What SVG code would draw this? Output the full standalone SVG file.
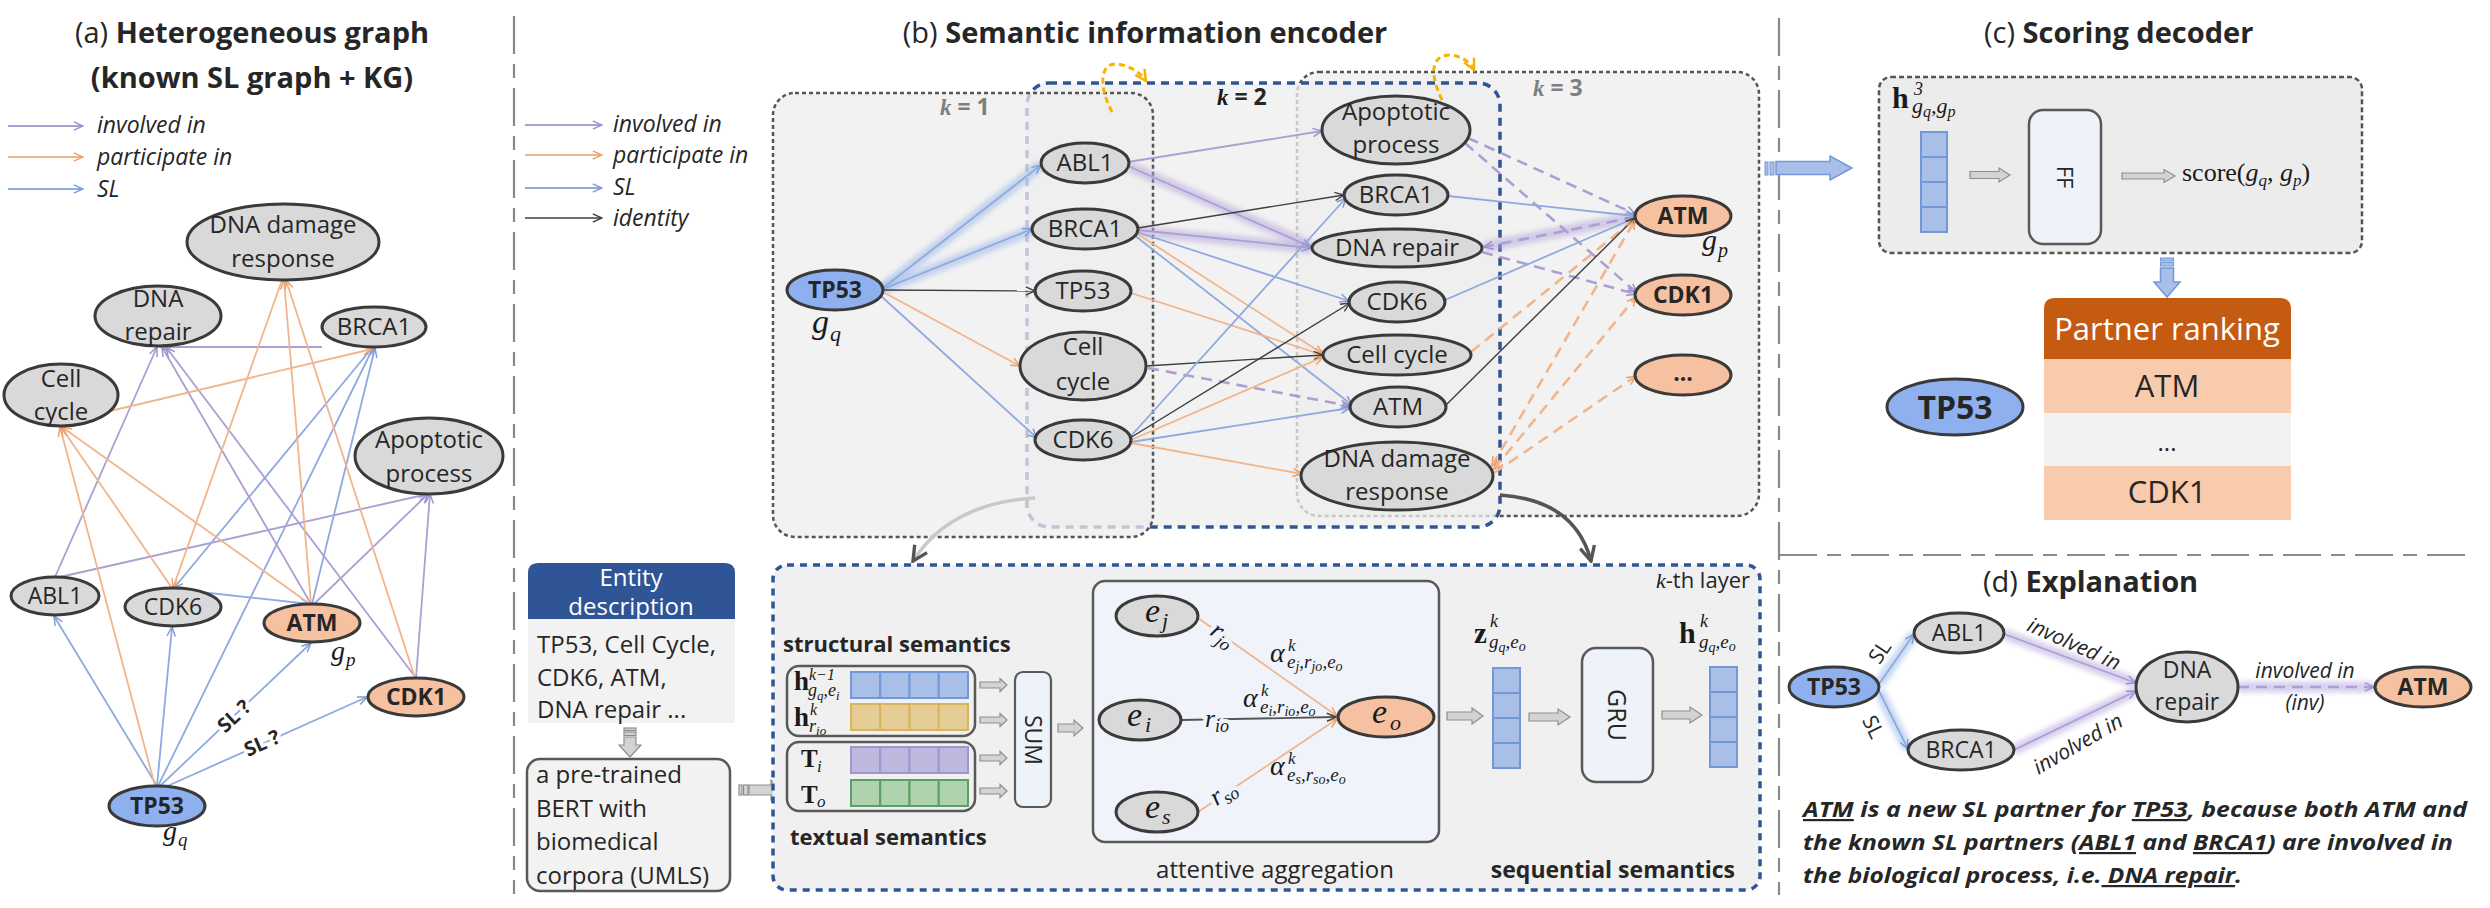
<svg xmlns="http://www.w3.org/2000/svg" width="2490" height="908" viewBox="0 0 2490 908">
<defs>
<style>
.s{font-family:"Open Sans","Liberation Sans",sans-serif;fill:#262626}
.m{font-family:"Liberation Serif","DejaVu Serif",serif;fill:#1a1a1a}
.mi{font-family:"Liberation Serif","DejaVu Serif",serif;font-style:italic;fill:#1a1a1a}
.mb{font-family:"Liberation Serif","DejaVu Serif",serif;font-weight:bold;fill:#1a1a1a}
.tt{font-size:29px;font-weight:bold}
.c{text-anchor:middle}
.f24{font-size:24px}
.f23{font-size:23px}
.b{font-weight:bold}
.it{font-style:italic}
.nd{fill:#d9d9d9;stroke:#3a3a3a;stroke-width:3}
.no{fill:#f6c1a0;stroke:#3a3a3a;stroke-width:3}
.nb{fill:#8eb0ee;stroke:#3a3a3a;stroke-width:3}
.e{fill:none;stroke-width:1.8}
.P{stroke:#ab9fd3;marker-end:url(#mP)}
.O{stroke:#f2b58b;marker-end:url(#mO)}
.B{stroke:#8eaadf;marker-end:url(#mB)}
.K{stroke:#3f3f3f;stroke-width:1.4;marker-end:url(#mK)}
.d{stroke-width:2.6;stroke-dasharray:11 7}
.gl{fill:none;stroke-width:11;opacity:.55;filter:url(#blur)}
.sep{fill:none;stroke:#8a8a8a;stroke-width:2.2;stroke-dasharray:38 10 14 10}
.bx{fill:#ededed;fill-opacity:.75;stroke:#555;stroke-width:2.5;stroke-dasharray:4 3}
.bk{fill:#ededed;fill-opacity:.75;stroke:#2f5597;stroke-width:3.5;stroke-dasharray:8 6}
.ga{fill:#d3d3d3;stroke:#8f8f8f;stroke-width:1.2}
.vb{fill:#a9bfe8;stroke:#7398d8;stroke-width:2}
.yl{fill:none;stroke:#f4b400;stroke-width:3;stroke-dasharray:6 4;marker-end:url(#mY)}
.bgl{paint-order:stroke;stroke:#ffffff;stroke-width:7;stroke-linejoin:round}
</style>
<filter id="blur" filterUnits="userSpaceOnUse" x="0" y="0" width="2490" height="908"><feGaussianBlur stdDeviation="2.5"/></filter>
<marker id="mP" viewBox="0 0 12 12" refX="11" refY="6" markerWidth="11" markerHeight="11" markerUnits="userSpaceOnUse" orient="auto"><path d="M1,1.5 L11,6 L1,10.5" fill="none" stroke="#9d90d0" stroke-width="1.6"/></marker>
<marker id="mO" viewBox="0 0 12 12" refX="11" refY="6" markerWidth="11" markerHeight="11" markerUnits="userSpaceOnUse" orient="auto"><path d="M1,1.5 L11,6 L1,10.5" fill="none" stroke="#ee9f6a" stroke-width="1.6"/></marker>
<marker id="mOr" viewBox="0 0 12 12" refX="11" refY="6" markerWidth="11" markerHeight="11" markerUnits="userSpaceOnUse" orient="auto-start-reverse"><path d="M1,1.5 L11,6 L1,10.5" fill="none" stroke="#ee9f6a" stroke-width="1.6"/></marker>
<marker id="mB" viewBox="0 0 12 12" refX="11" refY="6" markerWidth="11" markerHeight="11" markerUnits="userSpaceOnUse" orient="auto"><path d="M1,1.5 L11,6 L1,10.5" fill="none" stroke="#7d9bd8" stroke-width="1.6"/></marker>
<marker id="mK" viewBox="0 0 12 12" refX="11" refY="6" markerWidth="11" markerHeight="11" markerUnits="userSpaceOnUse" orient="auto"><path d="M1,1.5 L11,6 L1,10.5" fill="none" stroke="#3f3f3f" stroke-width="1.5"/></marker>
<marker id="mY" viewBox="0 0 14 14" refX="12" refY="7" markerWidth="14" markerHeight="14" markerUnits="userSpaceOnUse" orient="auto"><path d="M1,1.5 L12,7 L1,12.5" fill="none" stroke="#f4b400" stroke-width="2.5"/></marker>
<marker id="mG" viewBox="0 0 16 16" refX="14" refY="8" markerWidth="18" markerHeight="18" markerUnits="userSpaceOnUse" orient="auto"><path d="M1,1.5 L14,8 L1,14.5" fill="none" stroke="#555555" stroke-width="3"/></marker>
</defs>
<rect width="2490" height="908" fill="#ffffff"/>

<g id="separators">
<path class="sep" d="M514,16 V894"/>
<path class="sep" d="M1779,18 V895"/>
<path class="sep" d="M1779,555 H2465"/>
</g>

<g id="titles" class="s">
<text class="c tt" x="252" y="43"><tspan font-weight="normal">(a)</tspan> Heterogeneous graph</text>
<text class="c tt" x="252" y="88">(known SL graph + KG)</text>
<text class="c tt" x="1145" y="43"><tspan font-weight="normal">(b)</tspan> Semantic information encoder</text>
<text class="tt" x="1984" y="43"><tspan font-weight="normal">(c)</tspan> Scoring decoder</text>
<text class="tt" x="1983" y="592"><tspan font-weight="normal">(d)</tspan> Explanation</text>
</g>

<g id="legend-a">
<line class="e P" x1="8" y1="126" x2="83" y2="126"/>
<line class="e O" x1="8" y1="157" x2="83" y2="157"/>
<line class="e B" x1="8" y1="189" x2="83" y2="189"/>
<text class="s it f23" x="97" y="133">involved in</text>
<text class="s it f23" x="97" y="165">participate in</text>
<text class="s it f23" x="97" y="197">SL</text>
</g>

<g id="legend-b">
<line class="e P" x1="525" y1="125" x2="602" y2="125"/>
<line class="e O" x1="525" y1="155" x2="602" y2="155"/>
<line class="e B" x1="525" y1="188" x2="602" y2="188"/>
<line class="e K" x1="525" y1="218" x2="602" y2="218"/>
<text class="s it f23" x="613" y="132">involved in</text>
<text class="s it f23" x="613" y="163">participate in</text>
<text class="s it f23" x="613" y="195">SL</text>
<text class="s it f23" x="613" y="226">identity</text>
</g>

<g id="layer-boxes">
<rect class="bx" x="1297" y="72" width="462" height="444" rx="22"/>
<rect class="bk" x="1027" y="83" width="473" height="444" rx="22"/>
<rect class="bx" x="773" y="93" width="380" height="444" rx="22"/>
<text x="940" y="115" font-size="23" fill="#7f7f7f" font-weight="bold"><tspan class="mi" fill="#7f7f7f" style="fill:#7f7f7f">k</tspan><tspan font-family="Open Sans, Liberation Sans, sans-serif"> = 1</tspan></text>
<text x="1217" y="105" font-size="23" fill="#262626" font-weight="bold"><tspan class="mi">k</tspan><tspan font-family="Open Sans, Liberation Sans, sans-serif"> = 2</tspan></text>
<text x="1533" y="96" font-size="23" fill="#7f7f7f" font-weight="bold"><tspan class="mi" style="fill:#7f7f7f">k</tspan><tspan font-family="Open Sans, Liberation Sans, sans-serif">  = 3</tspan></text>
<path class="yl" d="M1112,112 C1098,85 1100,62 1118,64 C1130,66 1140,72 1146,81"/>
<path class="yl" d="M1442,100 C1430,75 1430,55 1450,55 C1462,56 1470,62 1474,70"/>
</g>

<g id="connectors">
<!-- panel a -->
<path class="e B" d="M157,786 L54,616"/>
<path class="e B" d="M157,786 L172,627"/>
<path class="e B" d="M158,786 L373,348"/>
<path class="e B" d="M160,786 L311,643" stroke-width="2.8"/>
<path class="e B" d="M163,788 L367,697" stroke-width="2.8"/>
<path class="e B" d="M372,348 L174,588"/>
<path class="e B" d="M312,604 L375,348"/>
<path class="e B" d="M200,592 L310,604"/>
<path class="e P" d="M55,577 L157,347"/>
<path class="e P" d="M322,347 L160,347"/>
<path class="e P" d="M311,604 L162,347"/>
<path class="e P" d="M416,678 L166,347"/>
<path class="e P" d="M60,577 L428,494"/>
<path class="e P" d="M314,604 L428,494"/>
<path class="e P" d="M416,678 L430,494"/>
<path class="e O" d="M155,786 L60,427"/>
<path class="e O" d="M172,588 L61,427"/>
<path class="e O" d="M310,604 L62,427"/>
<path class="e O" d="M106,412 L372,349"/>
<path class="e O" d="M282,280 L173,588"/>
<path class="e O" d="M311,604 L284,280"/>
<path class="e O" d="M415,678 L286,280"/>
<!-- panel b glows -->
<path class="gl" stroke="#9db8ea" d="M883,288 L1041,165"/>
<path class="gl" stroke="#9db8ea" d="M883,289 L1032,230"/>
<path class="gl" stroke="#b7a8dd" d="M1128,166 L1311,246"/>
<path class="gl" stroke="#b7a8dd" d="M1138,231 L1311,248"/>
<path class="gl" stroke="#b7a8dd" d="M1635,217 L1484,247"/>
<!-- panel b edges -->
<path class="e B" d="M883,288 L1041,165"/>
<path class="e B" d="M883,289 L1032,229"/>
<path class="e K" d="M883,290 L1035,291"/>
<path class="e O" d="M883,292 L1020,366"/>
<path class="e B" d="M881,296 L1037,438"/>
<path class="e P" d="M1128,162 L1322,131"/>
<path class="e P" d="M1128,166 L1311,247"/>
<path class="e K" d="M1138,228 L1344,195"/>
<path class="e P" d="M1138,230 L1311,248"/>
<path class="e B" d="M1137,232 L1349,301"/>
<path class="e B" d="M1134,235 L1352,405"/>
<path class="e O" d="M1136,233 L1323,354"/>
<path class="e O" d="M1131,293 L1323,355"/>
<path class="e K" d="M1146,366 L1323,355"/>
<path class="e P d" d="M1148,368 L1350,406"/>
<path class="e B" d="M1130,437 L1346,198"/>
<path class="e K" d="M1130,438 L1350,303"/>
<path class="e O" d="M1131,440 L1323,357"/>
<path class="e B" d="M1131,442 L1350,408"/>
<path class="e O" d="M1131,443 L1302,474"/>
<path class="e P d" d="M1468,138 L1635,214"/>
<path class="e P d" d="M1465,143 L1637,293"/>
<path class="e B" d="M1448,196 L1635,216"/>
<path class="e P d" d="M1635,217 L1484,247"/>
<path class="e P d" d="M1482,252 L1636,294"/>
<path class="e B" d="M1445,300 L1635,218"/>
<path class="e O d" d="M1471,352 L1635,219"/>
<path class="e K" d="M1446,405 L1635,218"/>
<path class="e O d" d="M1492,466 L1635,220" marker-start="url(#mOr)"/>
<path class="e O d" d="M1494,469 L1636,297" marker-start="url(#mOr)"/>
<path class="e O d" d="M1494,473 L1636,376"/>
<!-- between top and bottom of b -->
<path d="M1035,498 Q950,503 913,561" fill="none" stroke="#c9c9c9" stroke-width="3.5" marker-end="url(#mG)"/>
<path d="M1500,495 Q1575,500 1591,561" fill="none" stroke="#555555" stroke-width="3.5" marker-end="url(#mG)"/>
<!-- panel d -->
<path class="gl" stroke="#9db8ea" d="M1879,684 L1914,634"/>
<path class="gl" stroke="#9db8ea" d="M1879,691 L1908,749"/>
<path class="gl" stroke="#b7a8dd" d="M2004,634 L2136,683"/>
<path class="gl" stroke="#b7a8dd" d="M2014,750 L2136,691"/>
<path class="gl" stroke="#b7a8dd" d="M2238,687 L2374,687"/>
<path class="e B" d="M1879,684 L1914,634"/>
<path class="e B" d="M1879,691 L1908,749"/>
<path class="e P" d="M2004,634 L2136,683"/>
<path class="e P" d="M2014,750 L2136,691"/>
<path class="e P d" d="M2238,687 L2374,687"/>
</g>

<g id="a-labels" class="s b">
<text class="bgl" font-size="20" text-anchor="middle" transform="translate(234,716) rotate(-43)" dy="7">SL ?</text>
<text class="bgl" font-size="20" text-anchor="middle" transform="translate(262,743) rotate(-24)" dy="7">SL ?</text>
</g>

<g id="a-dna-damage-response"><ellipse class="nd" cx="283" cy="242" rx="96" ry="38"/><text class="s c f24" x="283" y="233">DNA damage</text><text class="s c f24" x="283" y="267">response</text></g>
<g id="a-dna-repair"><ellipse class="nd" cx="158" cy="316" rx="63" ry="30"/><text class="s c f24" x="158" y="307">DNA</text><text class="s c f24" x="158" y="340">repair</text></g>
<g id="a-brca1"><ellipse class="nd" cx="374" cy="327" rx="52" ry="20"/><text class="s c f24" x="374" y="335">BRCA1</text></g>
<g id="a-cell-cycle"><ellipse class="nd" cx="61" cy="395" rx="57" ry="31"/><text class="s c f24" x="61" y="387">Cell</text><text class="s c f24" x="61" y="420">cycle</text></g>
<g id="a-apoptotic"><ellipse class="nd" cx="429" cy="456" rx="74" ry="38"/><text class="s c f24" x="429" y="448">Apoptotic</text><text class="s c f24" x="429" y="482">process</text></g>
<g id="a-abl1"><ellipse class="nd" cx="55" cy="596" rx="44" ry="19"/><text class="s c f23" x="55" y="604">ABL1</text></g>
<g id="a-cdk6"><ellipse class="nd" cx="173" cy="607" rx="48" ry="19"/><text class="s c f23" x="173" y="615">CDK6</text></g>
<g id="a-atm"><ellipse class="no" cx="312" cy="623" rx="48" ry="19"/><text class="s c f23 b" x="312" y="631">ATM</text><text class="mi" x="331" y="660" font-size="28">g</text><text class="mi" x="346" y="666" font-size="19">p</text></g>
<g id="a-cdk1"><ellipse class="no" cx="416" cy="697" rx="48" ry="19"/><text class="s c f23 b" x="416" y="705">CDK1</text></g>
<g id="a-tp53"><ellipse class="nb" cx="157" cy="806" rx="48" ry="20"/><text class="s c f23 b" x="157" y="814">TP53</text><text class="mi" x="163" y="840" font-size="28">g</text><text class="mi" x="178" y="846" font-size="19">q</text></g>

<g id="b-tp53-query"><ellipse class="nb" cx="835" cy="290" rx="48" ry="20"/><text class="s c f23 b" x="835" y="298">TP53</text><text class="mi" x="812" y="333" font-size="34">g</text><text class="mi" x="830" y="341" font-size="22">q</text></g>
<g id="b1-abl1"><ellipse class="nd" cx="1085" cy="163" rx="44" ry="20"/><text class="s c f24" x="1085" y="171">ABL1</text></g>
<g id="b1-brca1"><ellipse class="nd" cx="1085" cy="229" rx="53" ry="20"/><text class="s c f24" x="1085" y="237">BRCA1</text></g>
<g id="b1-tp53"><ellipse class="nd" cx="1083" cy="291" rx="48" ry="20"/><text class="s c f24" x="1083" y="299">TP53</text></g>
<g id="b1-cell-cycle"><ellipse class="nd" cx="1083" cy="366" rx="63" ry="34"/><text class="s c f24" x="1083" y="355">Cell</text><text class="s c f24" x="1083" y="390">cycle</text></g>
<g id="b1-cdk6"><ellipse class="nd" cx="1083" cy="440" rx="48" ry="20"/><text class="s c f24" x="1083" y="448">CDK6</text></g>
<g id="b2-apoptotic"><ellipse class="nd" cx="1396" cy="130" rx="74" ry="34"/><text class="s c f24" x="1396" y="120">Apoptotic</text><text class="s c f24" x="1396" y="153">process</text></g>
<g id="b2-brca1"><ellipse class="nd" cx="1396" cy="195" rx="52" ry="20"/><text class="s c f24" x="1396" y="203">BRCA1</text></g>
<g id="b2-dna-repair"><ellipse class="nd" cx="1397" cy="248" rx="85" ry="19"/><text class="s c f24" x="1397" y="256">DNA repair</text></g>
<g id="b2-cdk6"><ellipse class="nd" cx="1397" cy="302" rx="48" ry="20"/><text class="s c f24" x="1397" y="310">CDK6</text></g>
<g id="b2-cell-cycle"><ellipse class="nd" cx="1397" cy="355" rx="74" ry="20"/><text class="s c f24" x="1397" y="363">Cell cycle</text></g>
<g id="b2-atm"><ellipse class="nd" cx="1398" cy="407" rx="48" ry="20"/><text class="s c f24" x="1398" y="415">ATM</text></g>
<g id="b2-dna-damage"><ellipse class="nd" cx="1397" cy="476" rx="96" ry="34"/><text class="s c f24" x="1397" y="467">DNA damage</text><text class="s c f24" x="1397" y="500">response</text></g>
<g id="b3-atm"><ellipse class="no" cx="1683" cy="216" rx="48" ry="20"/><text class="s c f23 b" x="1683" y="224">ATM</text><text class="mi" x="1702" y="250" font-size="30">g</text><text class="mi" x="1718" y="257" font-size="20">p</text></g>
<g id="b3-cdk1"><ellipse class="no" cx="1683" cy="295" rx="48" ry="20"/><text class="s c f23 b" x="1683" y="303">CDK1</text></g>
<g id="b3-more"><ellipse class="no" cx="1683" cy="375" rx="48" ry="20"/><text class="s c f23 b" x="1683" y="381">...</text></g>

<g id="arrow-b-to-c">
<rect x="1765" y="162" width="3" height="13" fill="#a9bfe8" stroke="#7398d8" stroke-width="1"/>
<rect x="1770" y="162" width="4" height="13" fill="#a9bfe8" stroke="#7398d8" stroke-width="1"/>
<polygon points="1776,161.5 1830,161.5 1830,156 1852,168 1830,180 1830,174.5 1776,174.5" fill="#a9bfe8" stroke="#7398d8" stroke-width="1.5"/>
</g>

<g id="entity-description">
<path d="M528,619 V573 Q528,563 538,563 H725 Q735,563 735,573 V619 Z" fill="#2f5597"/>
<rect x="528" y="619" width="207" height="104" fill="#f2f2f2"/>
<text class="s c f24" x="631" y="586" style="fill:#ffffff">Entity</text>
<text class="s c f24" x="631" y="615" style="fill:#ffffff">description</text>
<text class="s f24" x="537" y="653">TP53,  Cell Cycle,</text>
<text class="s f24" x="537" y="686">CDK6, ATM,</text>
<text class="s f24" x="537" y="718">DNA repair ...</text>
</g>
<g id="arrow-entity-bert">
<rect x="624" y="728" width="12" height="2.5" class="ga"/>
<rect x="624" y="732" width="12" height="3.5" class="ga"/>
<polygon class="ga" points="624,737 636,737 636,745 641,745 630,757 619,745 624,745"/>
</g>
<g id="bert">
<rect x="527" y="759" width="203" height="132" rx="13" fill="#f2f2f2" stroke="#595959" stroke-width="2.5"/>
<text class="s f24" x="536" y="783">a pre-trained</text>
<text class="s f24" x="536" y="817">BERT with</text>
<text class="s f24" x="536" y="850">biomedical</text>
<text class="s f24" x="536" y="884">corpora (UMLS)</text>
</g>
<g id="arrow-bert-text">
<rect x="739" y="785" width="3" height="10" class="ga"/>
<rect x="743.5" y="785" width="4.5" height="10" class="ga"/>
<polygon class="ga" points="749,785 771,785 771,780 782,790 771,800 771,795 749,795"/>
</g>

<g id="kth-layer">
<rect x="773" y="565" width="987" height="325" rx="14" fill="#f0f0f0" stroke="#2f5597" stroke-width="3.5" stroke-dasharray="7 6"/>
<text class="s" x="1750" y="588" font-size="22" text-anchor="end"><tspan class="mi">k</tspan>-th layer</text>
<text class="s b" x="783" y="652" font-size="22">structural semantics</text>
<text class="s b" x="790" y="845" font-size="22">textual semantics</text>
<text class="s b" x="1735" y="878" font-size="23" text-anchor="end">sequential semantics</text>
</g>

<g id="structural-box">
<rect x="787" y="666" width="188" height="70" rx="12" fill="none" stroke="#595959" stroke-width="2.5"/>
<text class="mb" x="794" y="690" font-size="27">h</text>
<text class="mi" x="809" y="680" font-size="16">k−1</text>
<text class="mi" x="808" y="696" font-size="18">g<tspan font-size="13" dy="4">q</tspan><tspan dy="-4">,e</tspan><tspan font-size="13" dy="4">i</tspan></text>
<text class="mb" x="794" y="726" font-size="27">h</text>
<text class="mi" x="810" y="715" font-size="16">k</text>
<text class="mi" x="809" y="732" font-size="18">r<tspan font-size="13" dy="3">io</tspan></text>
<g class="vb"><rect x="851" y="672" width="29.25" height="26"/><rect x="880.25" y="672" width="29.25" height="26"/><rect x="909.5" y="672" width="29.25" height="26"/><rect x="938.75" y="672" width="29.25" height="26"/></g>
<g fill="#e6cd95" stroke="#d8b45a" stroke-width="2"><rect x="851" y="704" width="29.25" height="26"/><rect x="880.25" y="704" width="29.25" height="26"/><rect x="909.5" y="704" width="29.25" height="26"/><rect x="938.75" y="704" width="29.25" height="26"/></g>
</g>
<g id="textual-box">
<rect x="787" y="742" width="188" height="69" rx="12" fill="none" stroke="#595959" stroke-width="2.5"/>
<text class="mb" x="801" y="767" font-size="25">T</text><text class="mi" x="817" y="772" font-size="17">i</text>
<text class="mb" x="801" y="803" font-size="25">T</text><text class="mi" x="817" y="807" font-size="17">o</text>
<g fill="#bdb9de" stroke="#9f97cf" stroke-width="2"><rect x="851" y="747" width="29.25" height="26"/><rect x="880.25" y="747" width="29.25" height="26"/><rect x="909.5" y="747" width="29.25" height="26"/><rect x="938.75" y="747" width="29.25" height="26"/></g>
<g fill="#aed3ae" stroke="#5c9e64" stroke-width="2"><rect x="851" y="780" width="29.25" height="26"/><rect x="880.25" y="780" width="29.25" height="26"/><rect x="909.5" y="780" width="29.25" height="26"/><rect x="938.75" y="780" width="29.25" height="26"/></g>
</g>
<g id="arrows-to-sum">
<polygon class="ga" points="980,682 1000,682 1000,678.5 1007,685 1000,691.5 1000,688 980,688"/>
<polygon class="ga" points="980,717 1000,717 1000,713.5 1007,720 1000,726.5 1000,723 980,723"/>
<polygon class="ga" points="980,755 1000,755 1000,751.5 1007,758 1000,764.5 1000,761 980,761"/>
<polygon class="ga" points="980,788 1000,788 1000,784.5 1007,791 1000,797.5 1000,794 980,794"/>
</g>
<g id="sum">
<rect x="1015" y="672" width="36" height="135" rx="8" fill="#eef2f9" stroke="#595959" stroke-width="2.2"/>
<text class="s c" font-size="23" transform="translate(1033,740) rotate(90)" dy="8">SUM</text>
</g>
<polygon id="arrow-sum-att" class="ga" points="1058,724 1074,724 1074,720 1083,728 1074,736 1074,732 1058,732"/>

<g id="attentive-aggregation">
<rect x="1093" y="581" width="346" height="261" rx="12" fill="#f0f4fa" stroke="#595959" stroke-width="2.5"/>
<path class="e O" d="M1198,618 L1337,716"/>
<path class="e O" d="M1198,812 L1337,719"/>
<path class="e" stroke="#555" stroke-width="1.6" marker-end="url(#mK)" d="M1181,720 L1336,717"/>
<g id="att-ej"><ellipse class="nd" cx="1157" cy="616" rx="41" ry="20"/><text class="mi" x="1145" y="622" font-size="34">e</text><text class="mi" x="1162" y="628" font-size="22">j</text></g>
<g id="att-ei"><ellipse class="nd" cx="1140" cy="720" rx="41" ry="20"/><text class="mi" x="1127" y="726" font-size="34">e</text><text class="mi" x="1145" y="732" font-size="22">i</text></g>
<g id="att-es"><ellipse class="nd" cx="1157" cy="812" rx="41" ry="20"/><text class="mi" x="1145" y="818" font-size="34">e</text><text class="mi" x="1162" y="824" font-size="22">s</text></g>
<g id="att-eo"><ellipse class="no" cx="1386" cy="717" rx="48" ry="20"/><text class="mi" x="1372" y="723" font-size="34">e</text><text class="mi" x="1390" y="730" font-size="22">o</text></g>
<text class="mi" font-size="26" transform="translate(1222,636) rotate(35)" text-anchor="middle" dy="6" style="paint-order:stroke;stroke:#f0f4fa;stroke-width:8">r<tspan font-size="18" dy="5">jo</tspan></text>
<text class="mi" font-size="26" x="1217" y="727" text-anchor="middle" style="paint-order:stroke;stroke:#f0f4fa;stroke-width:8">r<tspan font-size="18" dy="5">io</tspan></text>
<text class="mi" font-size="26" transform="translate(1224,794) rotate(-34)" text-anchor="middle" dy="6" style="paint-order:stroke;stroke:#f0f4fa;stroke-width:8">r<tspan font-size="18" dy="5">so</tspan></text>
<text class="mi" x="1270" y="662" font-size="28">α</text>
<text class="mi" x="1288" y="651" font-size="17">k</text>
<text class="mi" x="1287" y="668" font-size="19">e<tspan font-size="14" dy="3">j</tspan><tspan dy="-3">,r</tspan><tspan font-size="14" dy="3">jo</tspan><tspan dy="-3">,e</tspan><tspan font-size="14" dy="3">o</tspan></text>
<text class="mi" x="1243" y="707" font-size="28">α</text>
<text class="mi" x="1261" y="696" font-size="17">k</text>
<text class="mi" x="1260" y="713" font-size="19">e<tspan font-size="14" dy="3">i</tspan><tspan dy="-3">,r</tspan><tspan font-size="14" dy="3">io</tspan><tspan dy="-3">,e</tspan><tspan font-size="14" dy="3">o</tspan></text>
<text class="mi" x="1270" y="775" font-size="28">α</text>
<text class="mi" x="1288" y="764" font-size="17">k</text>
<text class="mi" x="1287" y="781" font-size="19">e<tspan font-size="14" dy="3">s</tspan><tspan dy="-3">,r</tspan><tspan font-size="14" dy="3">so</tspan><tspan dy="-3">,e</tspan><tspan font-size="14" dy="3">o</tspan></text>
<text class="s c" x="1275" y="878" font-size="24">attentive  aggregation</text>
</g>
<polygon id="arrow-att-z" class="ga" points="1447,712 1472,712 1472,708 1483,716 1472,724 1472,720 1447,720"/>
<g id="z-vector">
<rect class="vb" x="1493" y="668" width="27" height="25"/><rect class="vb" x="1493" y="693" width="27" height="25"/><rect class="vb" x="1493" y="718" width="27" height="25"/><rect class="vb" x="1493" y="743" width="27" height="25"/>
<text class="mb" x="1474" y="643" font-size="29">z</text>
<text class="mi" x="1490" y="627" font-size="18">k</text>
<text class="mi" x="1489" y="648" font-size="19">g<tspan font-size="14" dy="4">q</tspan><tspan dy="-4">,e</tspan><tspan font-size="14" dy="3">o</tspan></text>
</g>
<polygon id="arrow-z-gru" class="ga" points="1529,713 1558,713 1558,709 1570,717 1558,725 1558,721 1529,721"/>
<g id="gru">
<rect x="1582" y="648" width="71" height="134" rx="14" fill="#eef2f9" stroke="#595959" stroke-width="2.5"/>
<text class="s c" font-size="25" transform="translate(1617,715) rotate(90)" dy="9">GRU</text>
</g>
<polygon id="arrow-gru-h" class="ga" points="1662,711 1690,711 1690,707 1702,715 1690,723 1690,719 1662,719"/>
<g id="h-vector">
<rect class="vb" x="1710" y="667" width="27" height="25"/><rect class="vb" x="1710" y="692" width="27" height="25"/><rect class="vb" x="1710" y="717" width="27" height="25"/><rect class="vb" x="1710" y="742" width="27" height="25"/>
<text class="mb" x="1679" y="643" font-size="30">h</text>
<text class="mi" x="1700" y="627" font-size="18">k</text>
<text class="mi" x="1699" y="648" font-size="19">g<tspan font-size="14" dy="4">q</tspan><tspan dy="-4">,e</tspan><tspan font-size="14" dy="3">o</tspan></text>
</g>

<g id="scoring-box">
<rect x="1879" y="77" width="483" height="176" rx="12" fill="#ececec" stroke="#555" stroke-width="2.5" stroke-dasharray="5 3"/>
<text class="mb" x="1892" y="108" font-size="30">h</text>
<text class="mi" x="1914" y="95" font-size="18">3</text>
<text class="mi" x="1912" y="113" font-size="22">g<tspan font-size="16" dy="4">q</tspan><tspan dy="-4">,g</tspan><tspan font-size="16" dy="4">p</tspan></text>
<rect class="vb" x="1921" y="132" width="26" height="25"/><rect class="vb" x="1921" y="157" width="26" height="25"/><rect class="vb" x="1921" y="182" width="26" height="25"/><rect class="vb" x="1921" y="207" width="26" height="25"/>
<polygon class="ga" points="1970,171.5 1999,171.5 1999,168 2010,175 1999,182 1999,178.5 1970,178.5"/>
<rect x="2029" y="110" width="72" height="134" rx="14" fill="#eef2f9" stroke="#595959" stroke-width="2.5"/>
<text class="s c" font-size="22" transform="translate(2065,177) rotate(90)" dy="8">FF</text>
<polygon class="ga" points="2122,173 2164,173 2164,169.5 2175,176 2164,182.5 2164,179 2122,179"/>
<text class="m" x="2182" y="181" font-size="26">score(<tspan font-style="italic">g</tspan><tspan font-style="italic" font-size="17" dy="5">q</tspan><tspan dy="-5">, </tspan><tspan font-style="italic">g</tspan><tspan font-style="italic" font-size="17" dy="5">p</tspan><tspan dy="-5">)</tspan></text>
</g>
<g id="arrow-c-ranking">
<rect x="2160.5" y="258" width="13" height="3" fill="#a9bfe8" stroke="#7398d8" stroke-width="1"/>
<rect x="2160.5" y="262.5" width="13" height="3.5" fill="#a9bfe8" stroke="#7398d8" stroke-width="1"/>
<polygon points="2160.5,268 2173.5,268 2173.5,282 2180,282 2167,297 2154,282 2160.5,282" fill="#a9bfe8" stroke="#7398d8" stroke-width="1.5"/>
</g>
<g id="partner-ranking">
<path d="M2044,359 V309 Q2044,298 2055,298 H2280 Q2291,298 2291,309 V359 Z" fill="#c55a11"/>
<rect x="2044" y="359" width="247" height="54" fill="#f8cbad"/>
<rect x="2044" y="413" width="247" height="53" fill="#f2f2f2"/>
<rect x="2044" y="466" width="247" height="54" fill="#f8cbad"/>
<text class="s c" x="2167" y="340" font-size="31" style="fill:#ffffff">Partner ranking</text>
<text class="s c" x="2167" y="397" font-size="31">ATM</text>
<text class="s c" x="2167" y="451" font-size="24">...</text>
<text class="s c" x="2167" y="503" font-size="31">CDK1</text>
</g>
<g id="c-tp53"><ellipse class="nb" cx="1955" cy="407" rx="68" ry="28"/><text class="s c b" x="1955" y="419" font-size="32">TP53</text></g>

<g id="d-labels" class="s it" font-size="21">
<text class="c" transform="translate(1880,652) rotate(-56)" dy="7" font-style="normal">SL</text>
<text class="c" transform="translate(1873,727) rotate(64)" dy="7" font-style="normal">SL</text>
<text class="c" transform="translate(2074,644) rotate(24)" dy="7">involved in</text>
<text class="c" transform="translate(2078,744) rotate(-30)" dy="7">involved in</text>
<text class="c" x="2305" y="678">involved in</text>
<text class="c" x="2305" y="710">(inv)</text>
</g>
<g id="d-tp53"><ellipse class="nb" cx="1834" cy="687" rx="45" ry="20"/><text class="s c f23 b" x="1834" y="695">TP53</text></g>
<g id="d-abl1"><ellipse class="nd" cx="1959" cy="633" rx="45" ry="20"/><text class="s c f23" x="1959" y="641">ABL1</text></g>
<g id="d-brca1"><ellipse class="nd" cx="1961" cy="750" rx="53" ry="20"/><text class="s c f23" x="1961" y="758">BRCA1</text></g>
<g id="d-dna-repair"><ellipse class="nd" cx="2187" cy="687" rx="51" ry="35"/><text class="s c f23" x="2187" y="678">DNA</text><text class="s c f23" x="2187" y="710">repair</text></g>
<g id="d-atm"><ellipse class="no" cx="2423" cy="687" rx="48" ry="20"/><text class="s c f23 b" x="2423" y="695">ATM</text></g>

<g id="explanation" class="s b it" font-size="22">
<text x="1803" y="817" textLength="664" lengthAdjust="spacingAndGlyphs"><tspan text-decoration="underline">ATM</tspan> is a new SL partner for <tspan text-decoration="underline">TP53</tspan>, because both ATM and</text>
<text x="1803" y="850" textLength="650" lengthAdjust="spacingAndGlyphs">the known SL partners (<tspan text-decoration="underline">ABL1</tspan> and <tspan text-decoration="underline">BRCA1</tspan>) are involved in</text>
<text x="1803" y="883" textLength="439" lengthAdjust="spacingAndGlyphs">the biological process, i.e.<tspan text-decoration="underline"> DNA repair</tspan>.</text>
</g>
</svg>
